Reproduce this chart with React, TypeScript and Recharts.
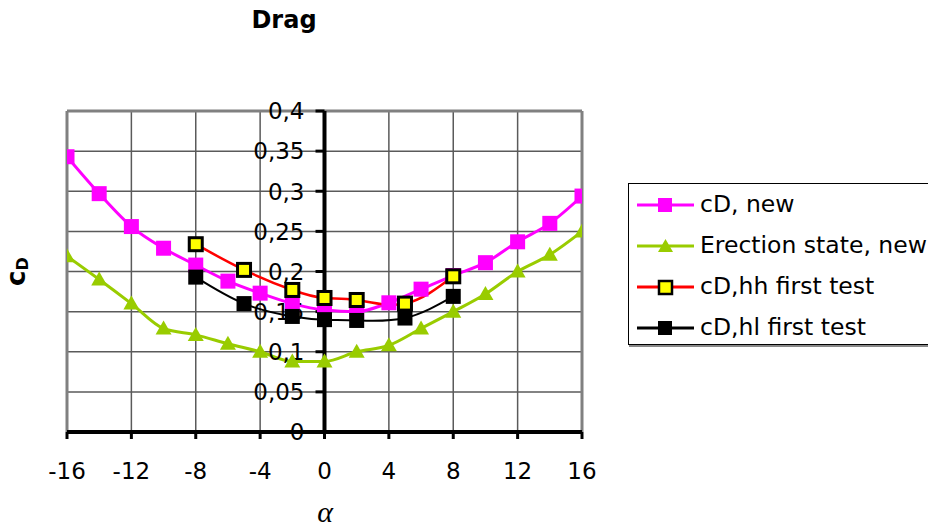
import React from 'react';
import { LineChart, Line, XAxis, YAxis, CartesianGrid, ReferenceLine, ReferenceDot } from 'recharts';

const alphaNew = [-16, -14, -12, -10, -8, -6, -4, -2, 0, 2, 4, 6, 8, 10, 12, 14, 16];
const cdNew = [0.343, 0.297, 0.256, 0.229, 0.208, 0.188, 0.173, 0.160, 0.152, 0.150, 0.161, 0.178, 0.195, 0.211, 0.237, 0.260, 0.294];
const erectionNew = [0.219, 0.190, 0.160, 0.129, 0.121, 0.110, 0.100, 0.088, 0.088, 0.100, 0.108, 0.129, 0.150, 0.172, 0.200, 0.221, 0.250];
const alphaTest = [-8, -5, -2, 0, 2, 5, 8];
const cdHH = [0.234, 0.202, 0.177, 0.167, 0.1645, 0.160, 0.194];
const cdHL = [0.193, 0.160, 0.144, 0.140, 0.139, 0.142, 0.169];

const xTicks = [-16, -12, -8, -4, 0, 4, 8, 12, 16];
const yTicks = [0, 0.05, 0.1, 0.15, 0.2, 0.25, 0.3, 0.35, 0.4];
const yTickLabels = ['0', '0,05', '0,1', '0,15', '0,2', '0,25', '0,3', '0,35', '0,4'];
const seriesNames = ['cD, new', 'Erection state, new', 'cD,hh first test', 'cD,hl first test'];

const allAlpha = Array.from(new Set([...alphaNew, ...alphaTest])).sort((a, b) => a - b);
const data = allAlpha.map((a) => {
  const i = alphaNew.indexOf(a);
  const j = alphaTest.indexOf(a);
  return {
    alpha: a,
    cd: i >= 0 ? cdNew[i] : null,
    er: i >= 0 ? erectionNew[i] : null,
    hh: j >= 0 ? cdHH[j] : null,
    hl: j >= 0 ? cdHL[j] : null,
  };
});

const FONT = 'DejaVu Sans';

const squareDot = (fill: string, stroke: string, size: number, sw: number) => (props: any) => {
  const { cx, cy, index, value } = props;
  if (cx == null || cy == null || value == null || Number.isNaN(cy)) return <g key={index} />;
  return (
    <rect key={index} x={cx - size / 2} y={cy - size / 2} width={size} height={size}
      fill={fill} stroke={stroke} strokeWidth={sw} />
  );
};

const triDot = (fill: string) => (props: any) => {
  const { cx, cy, index, value } = props;
  if (cx == null || cy == null || value == null || Number.isNaN(cy)) return <g key={index} />;
  return <path key={index} d={`M${cx},${cy - 8} L${cx + 8},${cy + 6} L${cx - 8},${cy + 6} Z`} fill={fill} />;
};

const YTick = (label: string) => (p: any) => (
  <g>
    <line x1={p.cx - 9} y1={p.cy} x2={p.cx} y2={p.cy} stroke="#000" strokeWidth={3} />
    <text x={p.cx - 20} y={p.cy} dy="0.36em" textAnchor="end" fontSize={23} fontFamily={FONT} fill="#000">{label}</text>
  </g>
);

const LegendIcon = ({ idx }: { idx: number }) => {
  const colors = ['#FF00FF', '#99CC00', '#FF0000', '#000000'];
  return (
    <svg width={57} height={20} style={{ display: 'block' }}>
      <line x1={0} y1={10} x2={57} y2={10} stroke={colors[idx]} strokeWidth={3} />
      {idx === 0 && <rect x={21} y={3} width={14} height={14} fill="#FF00FF" />}
      {idx === 1 && <path d="M28.5,3 L36,16 L21,16 Z" fill="#99CC00" />}
      {idx === 2 && <rect x={22} y={4} width={13} height={13} fill="#FFFF00" stroke="#000" strokeWidth={2.5} />}
      {idx === 3 && <rect x={21} y={3} width={14} height={14} fill="#000" />}
    </svg>
  );
};

export default function App() {
  return (
    <div style={{ position: 'relative', width: 928, height: 524, background: '#fff' }}>
      <LineChart width={928} height={524} data={data}
        margin={{ top: 103, right: 354, bottom: 40, left: 59 }}>
        <CartesianGrid stroke="#5a5a5a" strokeWidth={1.5}
          horizontalValues={yTicks} verticalValues={xTicks} />
        <XAxis dataKey="alpha" type="number" domain={[-16, 16]} ticks={xTicks}
          allowDataOverflow height={60}
          axisLine={{ stroke: '#000', strokeWidth: 4 }}
          tickLine={{ stroke: '#000', strokeWidth: 3 }} tickSize={7} tickMargin={24}
          tick={{ fill: '#000', fontSize: 23, fontFamily: FONT }} />
        <YAxis hide type="number" domain={[0, 0.4]} ticks={yTicks} allowDataOverflow />
        <ReferenceLine x={-16} stroke="#808080" strokeWidth={3} />
        <ReferenceLine x={16} stroke="#808080" strokeWidth={3} />
        <ReferenceLine y={0.4} stroke="#808080" strokeWidth={3} />
        <ReferenceLine x={0} stroke="#000" strokeWidth={4} />
        {yTicks.map((v, i) => (
          <ReferenceDot key={v} x={0} y={v} r={0} shape={YTick(yTickLabels[i])} />
        ))}
        <Line dataKey="cd" name={seriesNames[0]} type="monotone" stroke="#FF00FF" strokeWidth={3}
          connectNulls isAnimationActive={false} dot={squareDot('#FF00FF', 'none', 15, 0)} activeDot={false} />
        <Line dataKey="er" name={seriesNames[1]} type="monotone" stroke="#99CC00" strokeWidth={3}
          connectNulls isAnimationActive={false} dot={triDot('#99CC00')} activeDot={false} />
        <Line dataKey="hh" name={seriesNames[2]} type="natural" stroke="#FF0000" strokeWidth={2.5}
          connectNulls isAnimationActive={false} dot={squareDot('#FFFF00', '#000', 13, 3)} activeDot={false} />
        <Line dataKey="hl" name={seriesNames[3]} type="natural" stroke="#000" strokeWidth={2}
          connectNulls isAnimationActive={false} dot={squareDot('#000', 'none', 15, 0)} activeDot={false} />
      </LineChart>

      <svg width={928} height={524} style={{ position: 'absolute', left: 0, top: 0, pointerEvents: 'none', overflow: 'visible' }}>
        <text x={276} y={19.5} textAnchor="middle" fontSize={24} fontWeight="bold" fontFamily={FONT} fill="#000">Drag</text>
        <text transform="translate(17,278) rotate(-90)" fontFamily={FONT} fontWeight="bold" fill="#000">
          <tspan fontSize={26}>c</tspan>
          <tspan fontSize={16} dy={3}>D</tspan>
        </text>
        <text x={317} y={514} textAnchor="middle" fontSize={30} fontStyle="italic" fontFamily="Liberation Serif" fill="#000">α</text>
      </svg>

      <div style={{
        position: 'absolute', left: 620, top: 175, width: 308, height: 162, boxSizing: 'border-box',
        border: '1px solid #000', boxShadow: '1px 2px 0 #888', background: '#fff',
        fontFamily: FONT, fontSize: 23.5, color: '#000',
      }}>
        {seriesNames.map((n, i) => (
          <div key={n} style={{ display: 'flex', alignItems: 'center', height: 41, paddingLeft: 8 }}>
            <LegendIcon idx={i} />
            <span style={{ marginLeft: 6, whiteSpace: 'nowrap', lineHeight: '41px' }}>{n}</span>
          </div>
        ))}
      </div>
    </div>
  );
}
